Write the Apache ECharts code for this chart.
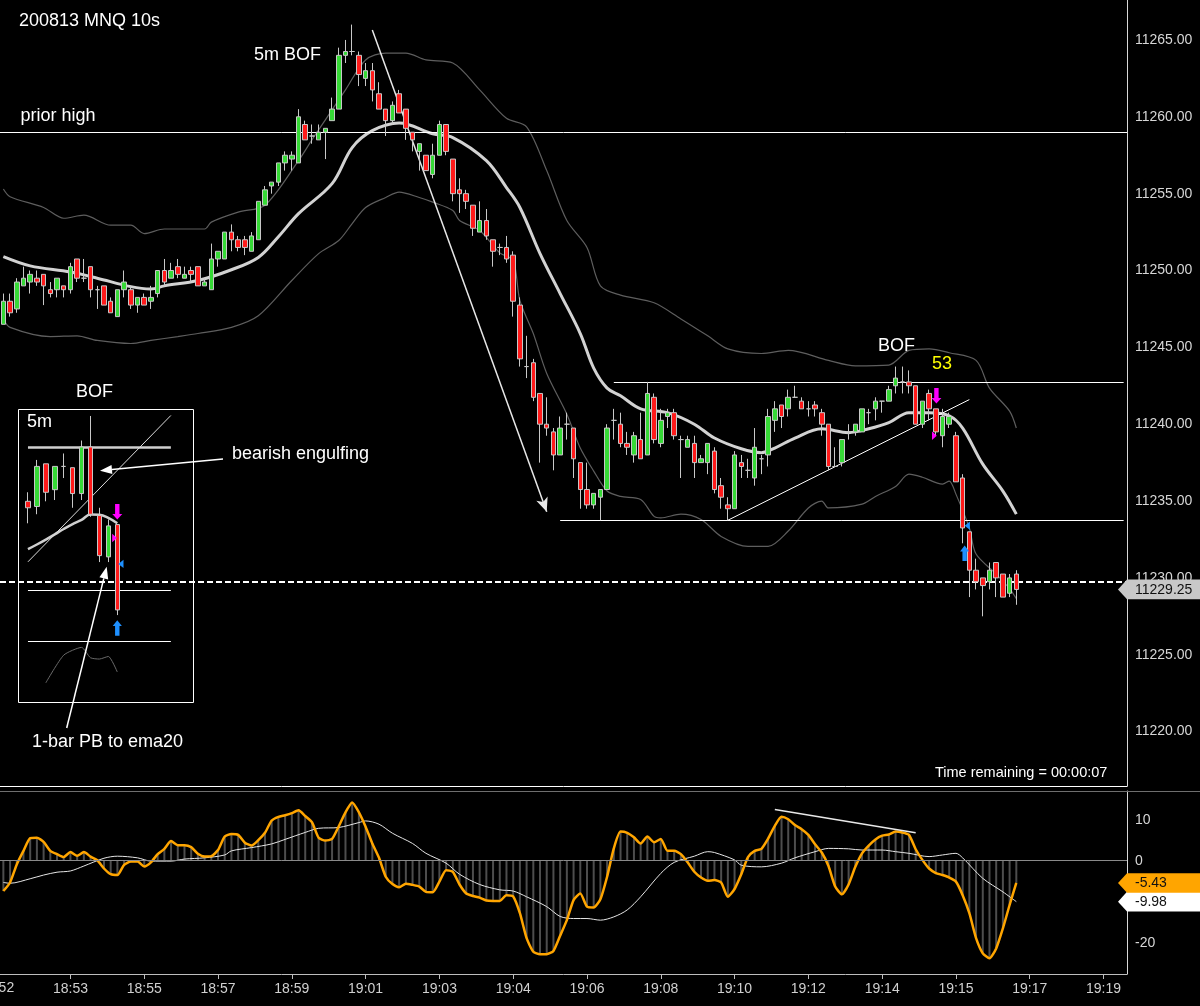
<!DOCTYPE html>
<html>
<head>
<meta charset="utf-8">
<script src="https://cdn.jsdelivr.net/npm/echarts@6/dist/echarts.min.js"></script>
<style>
  html, body { margin: 0; padding: 0; background: #000; }
  #main { width: 1200px; height: 1006px; }
</style>
</head>
<body>
<div id="main"></div>
<script>
// time axis: one slot per 10s bar, plus empty slots to the right
var barCount = 168;
var timeLabels = ['18:52', '18:53', '18:55', '18:57', '18:59', '19:01', '19:03', '19:04',
                  '19:06', '19:08', '19:10', '19:12', '19:14', '19:15', '19:17', '19:19'];

// 10s bars
var opens = [11246.5,11248,11247.5,11249,11249.25,11249.5,11249.75,11248.75,11248.75,11249,
  11248.75,11250.75,11249.5,11250.25,11248.75,11249,11248,11247,11248.75,11248.75,
  11247.75,11248.25,11248,11248.5,11250,11249.5,11250.25,11249.5,11250,11250.25,
  11249,11248.75,11250.75,11250.75,11252.5,11252,11252,11251.25,11252,11254.25,
  11255.5,11255.75,11257,11257.25,11257,11259.5,11258.75,11258.5,11259,11259.75,
  11260.5,11264,11264.25,11264,11262.5,11263,11261.5,11260.5,11259.75,11261.5,
  11260.5,11259,11257.75,11257.5,11256.25,11257.5,11259.5,11257.25,11255.25,11255,
  11254.25,11252.5,11253.25,11252,11251.5,11251.5,11251,11247.75,11243.75,11244,
  11242,11240,11239.5,11238,11240,11239.75,11237.5,11235.75,11234.75,11235.25,
  11235.75,11240.25,11240,11238.75,11238,11239,11238,11241.75,11238.75,11240.5,
  11240.75,11239,11238.5,11238.75,11237.5,11237.5,11238.25,11236,11234.75,11234.5,
  11237.5,11237,11236.5,11237.75,11238,11240.25,11241.25,11241,11241.75,11241.5,
  11241,11241.25,11240.75,11240,11237.25,11237.5,11239.5,11239.5,11239.5,11240.75,
  11241,11241.5,11241.5,11242.5,11242.75,11242.75,11242.5,11240,11242,11241,
  11239.25,11240,11239.25,11236.5,11233,11230.5,11230,11229.75,11231,11230.25,
  11229,11230.25];
var highs = [11248.5,11248.5,11249.5,11250.25,11250,11250,11249.75,11249.25,11249.5,11249,
  11250.5,11250.75,11250.75,11250.25,11249,11249,11248.25,11248.75,11250,11249,
  11248.25,11248.5,11249,11250,11250.75,11250.5,11250.75,11250.25,11250.25,11250.25,
  11249.5,11251.75,11251.25,11252.5,11253,11252.25,11252.25,11252.5,11254.5,11255.5,
  11255.75,11257,11257.75,11257.75,11260.5,11259.75,11259.5,11259.5,11259.25,11261.25,
  11264.5,11265,11266,11264.25,11263.5,11263.5,11262.25,11260.5,11261,11261.75,
  11260.5,11259,11258.25,11257.5,11258.25,11259.75,11259.5,11257.25,11256,11255.25,
  11254.25,11254.5,11254,11252,11251.75,11252.25,11251.25,11248.25,11245.75,11244.25,
  11242,11241.75,11239.75,11240.5,11240.75,11239.75,11237.5,11237.5,11235.5,11235.75,
  11240,11241,11240.75,11239.5,11239.5,11240.75,11242.75,11242,11241,11241,
  11241,11239.25,11239.25,11239.25,11238,11238.75,11238.5,11236.5,11235.25,11238.25,
  11238,11237.75,11239.75,11238,11241,11241.5,11241.25,11242.25,11242.5,11241.75,
  11241.5,11241.5,11241,11240,11238.5,11239,11240,11240,11241,11241,
  11241.75,11241.5,11242.5,11243.75,11243.75,11243.5,11242.5,11241.5,11242.25,11241,
  11241,11240.75,11239.5,11236.75,11233,11231.25,11230,11231,11231,11230.25,
  11230.25,11230.5];
var lows = [11246.5,11247,11247.25,11249,11248.5,11249,11247.75,11248.25,11248.25,11248.25,
  11248.5,11249.25,11249.25,11248.25,11247.5,11247.75,11247.25,11247,11248.25,11247.5,
  11247.25,11247.75,11247.5,11248.25,11249,11249.5,11249.5,11249.5,11249.25,11249,
  11249,11248.75,11250.25,11250.75,11251.25,11251.25,11251,11251.25,11252,11254.25,
  11255,11255.5,11256.5,11256.5,11257,11258.5,11258.25,11258.5,11257.25,11259.75,
  11260.5,11263.5,11264,11262,11262,11261,11260.5,11258.75,11259.5,11260.25,
  11258.5,11257.75,11256.5,11256.5,11256,11257.5,11257.5,11254.5,11253.75,11254,
  11252.25,11252.5,11252,11250.25,11251,11250.5,11247,11243.75,11243,11241.5,
  11237.5,11239.25,11237,11238,11239,11236.5,11234.5,11234.5,11234.5,11233.75,
  11235.75,11239,11238.5,11238,11237.5,11237.75,11238,11238.75,11238.5,11239.75,
  11239,11236.5,11238.5,11236.5,11237.5,11236.75,11235.5,11234.5,11233.75,11234.5,
  11236.5,11236.5,11236,11236.75,11237.25,11239.5,11239.75,11240.5,11241.75,11241,
  11240.5,11240.5,11239.25,11237,11237.25,11237.25,11239,11239.25,11239.5,11240,
  11240.25,11240.75,11241.5,11242,11242,11242,11240,11239.75,11240.25,11239.25,
  11238.5,11239.75,11236.25,11232.25,11228.75,11229.25,11227.5,11229.25,11228.75,11228.75,
  11228.75,11228.25];
var closes = [11248,11247.25,11249.25,11249.5,11249.75,11249.25,11249,11248.5,11249.5,11248.75,
  11250.25,11249.5,11249.5,11248.75,11248.75,11247.75,11247.25,11248.75,11249.25,11247.75,
  11248.25,11247.75,11248.25,11250,11249.25,11250,11249.75,11249.75,11249.75,11249,
  11249.25,11250.75,11251.25,11252.5,11252,11251.5,11251.5,11252.25,11254.5,11255.25,
  11255.75,11257,11257.5,11257.5,11260,11258.5,11258.75,11259,11259.25,11260.5,
  11264,11264.25,11264.25,11262.75,11263,11261.75,11260.5,11259.75,11260.75,11260.25,
  11259.25,11258.5,11258.25,11256.5,11257.5,11259.5,11257.75,11255,11255,11254.5,
  11252.75,11253.25,11252.25,11251.25,11251.5,11250.75,11248,11244.25,11243.75,11241.75,
  11240,11239.75,11238,11239.75,11240,11237.75,11235.75,11234.75,11235.5,11235.75,
  11239.75,11240.25,11238.75,11238.5,11239.25,11237.75,11242,11239,11240.25,11240.75,
  11239.25,11239,11239,11237.5,11237.75,11238.75,11235.75,11235.25,11234.5,11238,
  11237.25,11237,11238.5,11237.75,11240.5,11241,11240.5,11241.75,11241.75,11241,
  11241,11241,11240,11237.25,11237.25,11239,11239.5,11240,11241,11240.75,
  11241.5,11241.5,11242.25,11243,11242.75,11242.5,11240,11241.5,11241,11239.5,
  11240.5,11240.5,11236.25,11233.25,11230.5,11229.75,11229.5,11230.5,11230,11228.75,
  11230,11229.25];

// ema20 and its bands, sampled along the drawn curves (bar index, price)
var emaBars = [0,4,10,14,19,22,24,29,34,38,41,44,49,52,55,59,64,67,72,75,77,80,83,86,88,90,92,95,99,103,106,110,113,115,118,122,126,129,132,135,138,141,143,146,149,151];
var emaVals = [11250.9,11250.3,11249.9,11249.5,11248.95,11248.8,11249.0,11249.35,11250.05,11250.85,11252.2,11253.7,11255.65,11258.0,11259.1,11259.6,11258.9,11258.65,11257.15,11255.4,11254.1,11251.1,11248.5,11245.9,11243.65,11242.35,11241.85,11241.0,11240.75,11240.0,11239.1,11238.4,11238.15,11238.45,11239.1,11239.7,11239.45,11239.7,11240.1,11240.75,11240.75,11240.55,11239.75,11237.4,11235.65,11234.15];
var upperBars = [0,1,6,9,12,16,19,21,24,30,31,35,39,44,46,48,51,54,57,60,63,67,71,75,78,81,84,87,89,92,97,101,105,108,113,117,123,127,132,135,138,141,145,147,150,151];
var upperVals = [11255.3,11254.8,11254.1,11253.4,11253.6,11252.95,11252.95,11252.4,11252.7,11252.7,11253.15,11253.8,11254.25,11257.15,11258.5,11259.8,11261.75,11263.7,11264.15,11264.15,11263.7,11263.5,11261.75,11259.9,11259.35,11256.5,11253.25,11251.5,11249.0,11248.4,11247.9,11246.85,11245.75,11244.9,11244.6,11244.8,11244.15,11243.8,11243.85,11244.8,11244.9,11244.65,11244.15,11242.35,11240.85,11239.75];
var lowerBars = [0,1,7,11,14,19,22,26,29,34,38,43,47,50,52,54,57,59,62,64,67,68,71,74,76,77,79,81,84,86,88,90,92,95,97,98,101,104,107,111,114,117,120,122,123,128,130,133,135,137,140,141,142,144,145,148,150,151];
var lowerVals = [11246.85,11246.3,11245.7,11245.75,11245.45,11245.25,11245.45,11245.7,11245.9,11246.3,11247.05,11249.35,11251.1,11251.95,11253.05,11254.1,11254.75,11255.1,11254.75,11254.45,11253.9,11253.25,11252.6,11251.15,11250.65,11248.05,11245.9,11243.3,11240.65,11238.45,11236.95,11235.65,11235.3,11235.1,11234.0,11233.9,11234.15,11233.8,11232.7,11232.05,11232.05,11233.05,11234.55,11235.0,11234.55,11234.8,11235.3,11235.95,11236.75,11236.55,11236.1,11236.3,11235.45,11233.25,11231.55,11230.25,11229.3,11228.65];

// drawn levels
var priorHigh = 11259;
var rangeTop = 11242.75;
var rangeBottom = 11233.75;
var dashedLevel = 11229.75;

// oscillator (orange line = histogram), signal line
var oscVals = [-7.4,-5.3,-0.9,2.4,5.5,5.6,4.6,2.4,1.6,0.9,2.1,1.2,2.1,1.0,0.1,-1.9,-3.3,-3.5,-1.0,-0.2,
  -0.2,-1.4,-0.4,1.6,2.9,4.8,3.8,3.8,3.3,1.7,1.0,1.1,2.6,5.9,6.5,6.3,4.4,3.7,5.0,6.8,
  9.8,10.7,11.1,11.6,12.3,10.9,9.4,5.6,4.9,5.3,8.4,11.8,14.2,11.8,8.3,4.2,0.7,-3.9,-5.7,-6.5,
  -5.6,-5.9,-6.3,-7.6,-7.7,-5.1,-2.3,-2.7,-5.8,-8.0,-8.6,-9.0,-9.7,-9.8,-9.8,-8.4,-8.7,-12.8,-18.9,-22.2,
  -22.8,-22.8,-22.0,-18.3,-14.5,-9.6,-8.0,-11.2,-11.4,-9.4,-3.9,3.0,7.1,6.8,5.7,4.2,5.9,4.5,5.3,2.4,
  2.4,1.6,-0.4,-2.7,-4.1,-4.9,-4.7,-5.3,-8.8,-6.9,-3.3,0.9,2.4,2.9,5.4,8.5,10.7,10.1,8.7,7.7,
  6.3,4.0,2.0,-1.3,-6.3,-8.2,-5.8,-1.5,1.8,3.7,5.2,6.1,6.4,7.1,6.9,6.3,2.8,0.2,-1.9,-3.0,
  -3.5,-4.1,-5.1,-8.4,-12.8,-18.9,-22.6,-23.8,-21.4,-16.5,-10.8,-5.43];
var sigBars = [0,1,4,6,8,10,12,15,17,20,22,25,27,30,33,34,37,40,42,45,47,50,53,54,56,58,61,63,66,68,71,74,76,78,81,83,85,87,89,91,93,95,98,100,103,105,106,109,110,113,116,118,121,123,126,128,131,133,135,138,140,142,143,146,149,151];
var sigVals = [-5.3,-5.5,-4.4,-3.5,-2.8,-2.5,-1.3,0.6,1.1,0.7,-0.1,-0.1,0.4,0.7,1.4,2.4,3.2,4.1,5.2,6.9,7.9,8.1,9.3,9.7,8.9,6.7,4.2,1.8,-0.6,-3.3,-5.8,-7.1,-7.4,-8.8,-11.2,-13.6,-14.1,-14.1,-14.5,-13.7,-12.0,-8.8,-3.1,-0.4,1.1,2.2,2.0,0.2,-1.1,-1.5,-0.6,0.7,2.2,3.0,2.9,2.6,2.6,2.2,1.8,1.0,1.4,1.8,0.7,-4.3,-7.6,-9.98];

// 5m inset (pasted picture of the 5 minute chart)
var insetOpen  = [11249.5,11248.5,11256.75,11251.75,11256.25,11256,11251,11260,11246.75,11238.75,11245];
var insetHigh  = [11251.25,11257.5,11256.75,11256.25,11258.75,11256,11261.25,11266,11248.25,11246,11245];
var insetLow   = [11245.25,11247,11249.5,11249.75,11254,11248.25,11249.75,11246.5,11237.75,11237.75,11227.5];
var insetClose = [11248.25,11256.25,11251.25,11256.25,11256.25,11251,11260,11247,11239,11244.75,11228.5];
var insetEma   = [11240.25,11241.15,11242.1,11243.1,11244.15,11245.1,11245.9,11246.95,11246.9,11246.3,11245.25];
var insetBandBars = [2,4,6,7,8,9,10];
var insetBandVals = [11214.4,11219.75,11221.25,11219.25,11219,11219.5,11216.5];

var FONT = '"Liberation Sans", Arial, sans-serif';
var GREEN = '#36d936', RED = '#ff1a1a', WICK = '#c8c8c8';

function pairs(xs, ys) {
  return xs.map(function (x, k) { return [x, ys[k]]; });
}
function seq(n) {
  var a = [];
  for (var i = 0; i < n; i++) a.push(i);
  return a;
}

var candles = opens.map(function (o, i) { return [o, closes[i], lows[i], highs[i]]; });
var insetCandles = insetOpen.map(function (o, i) { return [o, insetClose[i], insetLow[i], insetHigh[i]]; });
var lastBar = closes.length - 1;

var candleStyle = {
  color: GREEN, color0: RED,
  borderColor: WICK, borderColor0: WICK, borderColorDoji: WICK,
  borderWidth: 1
};
function hline(from, to, v, style) {
  return [{ coord: [from, v], lineStyle: style }, { coord: [to, v] }];
}
var thin = { color: '#ffffff', width: 1, type: 'solid' };

var myChart = echarts.init(document.getElementById('main'));
var option = {
  backgroundColor: '#000',
  animation: false,
  textStyle: { fontFamily: FONT },
  grid: [
    { left: 0, top: 0, width: 1127, height: 786 },
    { left: 0, top: 791, width: 1127, height: 183 },
    { left: 23.5, top: 409, width: 169.7, height: 294 }
  ],
  xAxis: [
    {
      type: 'category', gridIndex: 0, data: seq(barCount),
      axisLine: { show: true, onZero: false, lineStyle: { color: '#ffffff', width: 1 } },
      axisTick: { show: false }, axisLabel: { show: false }, splitLine: { show: false }
    },
    {
      type: 'category', gridIndex: 1, data: seq(barCount),
      axisLine: { show: true, onZero: false, lineStyle: { color: '#bdbdbd', width: 1 } },
      axisTick: {
        show: true, alignWithLabel: true, length: 5,
        interval: function (i) { return (i + 1) % 11 === 0; },
        lineStyle: { color: '#bdbdbd' }
      },
      axisLabel: {
        interval: function (i) { return (i + 1) % 11 === 0; },
        formatter: function (v, i) { return timeLabels[(i + 1) / 11] || ''; },
        color: '#d0d0d0', fontSize: 14, fontFamily: FONT, margin: 8
      },
      splitLine: { show: false }
    },
    { type: 'category', gridIndex: 2, data: seq(19), show: false }
  ],
  yAxis: [
    {
      type: 'value', gridIndex: 0, position: 'right',
      min: 11216.46, max: 11267.6, splitNumber: 10,
      axisLine: { show: true, lineStyle: { color: '#d8d8d8' } },
      axisTick: { show: false }, splitLine: { show: false },
      axisLabel: {
        color: '#d6d6d6', fontSize: 14, fontFamily: FONT, margin: 8,
        showMinLabel: false, showMaxLabel: false,
        formatter: function (v) { return v.toFixed(2); }
      }
    },
    {
      type: 'value', gridIndex: 1, position: 'right',
      min: -27.63, max: 17.0, splitNumber: 4,
      axisLine: { show: true, lineStyle: { color: '#d8d8d8' } },
      axisTick: { show: false }, splitLine: { show: false },
      axisLabel: {
        color: '#d6d6d6', fontSize: 14, fontFamily: FONT, margin: 8,
        showMinLabel: false, showMaxLabel: false,
        formatter: function (v) { return v === -10 ? '' : String(v); }
      }
    },
    { type: 'value', gridIndex: 2, min: 11210.5, max: 11267.35, show: false }
  ],
  series: [
    {
      name: 'upper', type: 'line', xAxisIndex: 0, yAxisIndex: 0,
      data: pairs(upperBars, upperVals), symbol: 'none', smooth: 0.3, z: 2,
      lineStyle: { color: '#5e5e5e', width: 1.2 }
    },
    {
      name: 'lower', type: 'line', xAxisIndex: 0, yAxisIndex: 0,
      data: pairs(lowerBars, lowerVals), symbol: 'none', smooth: 0.3, z: 2,
      lineStyle: { color: '#5e5e5e', width: 1.2 }
    },
    {
      name: 'ema20', type: 'line', xAxisIndex: 0, yAxisIndex: 0,
      data: pairs(emaBars, emaVals), symbol: 'none', smooth: 0.35, z: 3,
      lineStyle: { color: '#d2d2d2', width: 3 },
      // the long down arrow
      markLine: {
        silent: true, label: { show: false }, symbol: ['none', 'arrow'], symbolSize: [9, 14],
        lineStyle: { color: '#e8e8e8', width: 1.5, type: 'solid' },
        data: [[{ coord: [55, 11265.65] }, { coord: [81, 11234.3] }]]
      }
    },
    {
      name: 'price', type: 'candlestick', xAxisIndex: 0, yAxisIndex: 0,
      data: candles, barWidth: 5, z: 5, itemStyle: candleStyle,
      markLine: {
        silent: true, label: { show: false }, symbol: ['none', 'none'],
        lineStyle: thin,
        data: [
          { yAxis: priorHigh, lineStyle: thin },
          { yAxis: dashedLevel, lineStyle: { color: '#ffffff', width: 2, type: [6, 3] } },
          hline(91, barCount - 1, rangeTop, thin),
          hline(83, barCount - 1, rangeBottom, thin),
          [{ coord: [108, rangeBottom], lineStyle: thin }, { coord: [144, 11241.6] }]
        ]
      }
    },
    {
      name: 'hist', type: 'bar', xAxisIndex: 1, yAxisIndex: 1,
      data: oscVals, barWidth: 2, silent: true, itemStyle: { color: '#4d4d4d' },
      markLine: {
        silent: true, label: { show: false }, symbol: ['none', 'none'],
        data: [
          { yAxis: 0, lineStyle: { color: '#8a8a8a', width: 1, type: 'solid' } },
          [{ coord: [115, 12.5], lineStyle: { color: '#e8e8e8', width: 1.5, type: 'solid' } }, { coord: [136, 6.8] }]
        ]
      }
    },
    {
      name: 'signal', type: 'line', xAxisIndex: 1, yAxisIndex: 1,
      data: pairs(sigBars, sigVals), symbol: 'none', smooth: 0.3, z: 3,
      lineStyle: { color: '#e6e6e6', width: 1 }
    },
    {
      name: 'osc', type: 'line', xAxisIndex: 1, yAxisIndex: 1,
      data: oscVals, symbol: 'none', smooth: 0.2, z: 4,
      lineStyle: { color: '#ffa500', width: 2.5 }
    },
    {
      name: 'insetBand', type: 'line', xAxisIndex: 2, yAxisIndex: 2,
      data: pairs(insetBandBars, insetBandVals), symbol: 'none', smooth: 0.2,
      lineStyle: { color: '#6a6a6a', width: 1 }
    },
    {
      name: 'insetEma', type: 'line', xAxisIndex: 2, yAxisIndex: 2,
      data: insetEma, symbol: 'none', smooth: 0.4,
      lineStyle: { color: '#cfcfcf', width: 2.5 }
    },
    {
      name: 'inset', type: 'candlestick', xAxisIndex: 2, yAxisIndex: 2,
      data: insetCandles, barWidth: 5, z: 5, itemStyle: candleStyle,
      markLine: {
        silent: true, label: { show: false }, symbol: ['none', 'none'],
        data: [
          hline(0, 16, 11260, { color: '#cfcfcf', width: 2.5, type: 'solid' }),
          [{ coord: [0, 11237.8], lineStyle: { color: '#dcdcdc', width: 1, type: 'solid' } }, { coord: [16, 11266.1] }],
          hline(0, 16, 11232.35, thin),
          hline(0, 16, 11222.5, thin)
        ]
      }
    }
  ]
};
myChart.setOption(option);

// ---- annotations ----
var g = [];
function text(x, y, s, size, color, align) {
  g.push({
    type: 'text', x: x, y: y, z: 100, silent: true,
    style: { text: s, fill: color || '#ffffff', fontSize: size, fontFamily: FONT,
             align: align || 'left', verticalAlign: 'middle' }
  });
}
function poly(points, color) {
  g.push({ type: 'polygon', z: 100, silent: true, shape: { points: points }, style: { fill: color } });
}
function arrow(x1, y1, x2, y2) {
  var dx = x2 - x1, dy = y2 - y1, len = Math.sqrt(dx * dx + dy * dy);
  var ux = dx / len, uy = dy / len, hl = 12, hw = 4.5;
  var bx = x2 - ux * hl, by = y2 - uy * hl;
  g.push({ type: 'line', z: 100, silent: true, shape: { x1: x1, y1: y1, x2: bx, y2: by },
           style: { stroke: '#ffffff', lineWidth: 1.5 } });
  poly([[x2, y2], [bx - uy * hw, by + ux * hw], [bx + uy * hw, by - ux * hw]], '#ffffff');
}
function downArrow(cx, top, color) {
  poly([[cx - 2.2, top], [cx + 2.2, top], [cx + 2.2, top + 10], [cx + 5, top + 10],
        [cx, top + 15.5], [cx - 5, top + 10], [cx - 2.2, top + 10]], color);
}
function upArrow(cx, top, color) {
  poly([[cx, top], [cx + 4.6, top + 5.8], [cx + 2.2, top + 5.8], [cx + 2.2, top + 15.5],
        [cx - 2.2, top + 15.5], [cx - 2.2, top + 5.8], [cx - 4.6, top + 5.8]], color);
}
function rightTri(tipX, cy, color) { poly([[tipX - 4.8, cy - 4.2], [tipX, cy], [tipX - 4.8, cy + 4.2]], color); }
function leftTri(tipX, cy, color) { poly([[tipX + 5.2, cy - 4.2], [tipX, cy], [tipX + 5.2, cy + 4.2]], color); }
function tag(y, s, bg, fg) {
  poly([[1118, y], [1127, y - 9.8], [1200, y - 9.8], [1200, y + 9.8], [1127, y + 9.8]], bg);
  text(1135, y + 0.5, s, 14, fg);
}
function px(grid, bar, price) {
  return myChart.convertToPixel({ xAxisIndex: grid, yAxisIndex: grid }, [bar, price]);
}

text(19, 21.5, '200813 MNQ 10s', 18);
text(254, 55, '5m BOF', 18);
text(20.5, 116, 'prior high', 18);
text(878, 346, 'BOF', 18);
text(932, 364, '53', 18, '#ffff00');
text(935, 773, 'Time remaining = 00:00:07', 14.5);
text(-3.35, 988, timeLabels[0], 14, '#d0d0d0', 'center');

// signal markers on the 10s chart
var m = px(0, 139, 11242.35); downArrow(m[0] + 0.6, m[1], '#ff00ff');
m = px(0, 139, 11239.25); rightTri(m[0] + 1, m[1], '#ff00ff');
m = px(0, 143, 11233.4); leftTri(m[0] + 2, m[1], '#1e90ff');
m = px(0, 143, 11232.1); upArrow(m[0] + 2, m[1], '#1e90ff');

// inset frame, its labels and pointers
g.push({ type: 'rect', z: 100, silent: true, shape: { x: 18.5, y: 409.5, width: 175, height: 293 },
         style: { fill: 'none', stroke: '#ffffff', lineWidth: 1 } });
text(76, 392, 'BOF', 18);
text(27, 422, '5m', 18);
text(232, 454, 'bearish engulfing', 18);
text(32, 742, '1-bar PB to ema20', 18);
arrow(223, 459, 100, 470.7);
arrow(66.7, 728, 106.7, 566.7);
m = px(2, 10, 11248.98); downArrow(m[0], m[1], '#ff00ff');
m = px(2, 10, 11242.4); rightTri(m[0] - 0.3, m[1], '#ff00ff');
m = px(2, 10, 11237.4); leftTri(m[0] + 1, m[1], '#1e90ff');
m = px(2, 10, 11226.5); upArrow(m[0], m[1], '#1e90ff');

// panel separator
g.push({ type: 'line', z: 100, silent: true, shape: { x1: 0, y1: 791.5, x2: 1200, y2: 791.5 },
         style: { stroke: '#6e6e6e', lineWidth: 1 } });

// last value tags on the right axis
tag(px(0, lastBar, closes[lastBar])[1], closes[lastBar].toFixed(2), '#c8c8c8', '#111111');
tag(px(1, lastBar, sigVals[sigVals.length - 1])[1], sigVals[sigVals.length - 1].toFixed(2), '#ffffff', '#111111');
tag(px(1, lastBar, oscVals[lastBar])[1], oscVals[lastBar].toFixed(2), '#ffa500', '#111111');

myChart.setOption({ graphic: g });
</script>
</body>
</html>
